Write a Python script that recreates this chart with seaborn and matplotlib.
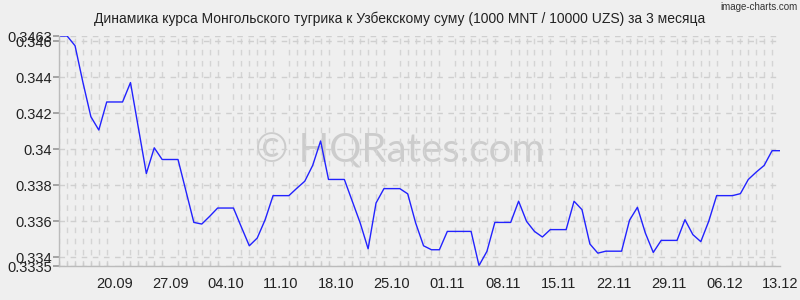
import matplotlib
matplotlib.use("Agg")
import matplotlib.pyplot as plt
import matplotlib.dates as mdates
import seaborn as sns
import pandas as pd

# ---- data ----
start_date = "2023-09-13"
end_date = "2023-12-13"
rates = [
    0.3463, 0.3463, 0.34576, 0.34371, 0.34181, 0.34107, 0.34263, 0.34263, 0.34263, 0.34371,
    0.34118, 0.33865, 0.34008, 0.33943, 0.33943, 0.33943, 0.33768, 0.33593, 0.33584, 0.33627,
    0.33673, 0.33673, 0.33673, 0.33567, 0.33463, 0.33506, 0.33608, 0.33742, 0.33742, 0.33742,
    0.33783, 0.33822, 0.33910, 0.34046, 0.33832, 0.33832, 0.33832, 0.33711, 0.33590, 0.33446,
    0.33701, 0.33781, 0.33781, 0.33781, 0.33752, 0.33590, 0.33463, 0.33441, 0.33441, 0.33543,
    0.33543, 0.33543, 0.33543, 0.33353, 0.33432, 0.33593, 0.33593, 0.33593, 0.33711, 0.33599,
    0.33543, 0.33512, 0.33553, 0.33553, 0.33553, 0.33711, 0.33664, 0.33473, 0.33422, 0.33433,
    0.33433, 0.33433, 0.33605, 0.33677, 0.33534, 0.33426, 0.33493, 0.33493, 0.33493, 0.33608,
    0.33525, 0.33486, 0.33599, 0.33742, 0.33742, 0.33742, 0.33753, 0.33832, 0.33873, 0.33910,
    0.33992, 0.33992,
]
x_tick_dates = ["2023-09-20", "2023-09-27", "2023-10-04", "2023-10-11", "2023-10-18",
                "2023-10-25", "2023-11-01", "2023-11-08", "2023-11-15", "2023-11-22",
                "2023-11-29", "2023-12-06", "2023-12-13"]
x_tick_labels = ["20.09", "27.09", "04.10", "11.10", "18.10", "25.10", "01.11",
                 "08.11", "15.11", "22.11", "29.11", "06.12", "13.12"]
y_ticks = [0.3335, 0.334, 0.336, 0.338, 0.34, 0.342, 0.344, 0.346, 0.3463]
y_tick_labels = ["0.3335", "0.334", "0.336", "0.338", "0.34", "0.342", "0.344", "0.346", "0.3463"]
title = "Динамика курса Монгольского тугрика к Узбекскому суму (1000 MNT / 10000 UZS) за 3 месяца"

df = pd.DataFrame({"date": pd.date_range(start_date, end_date), "rate": rates})

sns.set_theme(style="white")
plt.rcParams["font.family"] = ["Liberation Sans", "DejaVu Sans"]

bg = "#efefef"
fig = plt.figure(figsize=(8, 3), dpi=100, facecolor=bg)
ax = fig.add_axes([0.074, 0.113, 0.901, 0.767])
ax.set_facecolor(bg)

sns.lineplot(data=df, x="date", y="rate", ax=ax, color="#2222ff", linewidth=1.0)

ax.set_xlim(df["date"].iloc[0], df["date"].iloc[-1])
ax.set_ylim(y_ticks[0], y_ticks[-1])

ax.set_xticks(pd.to_datetime(x_tick_dates))
ax.set_xticklabels(x_tick_labels)
ax.xaxis.set_minor_locator(mdates.DayLocator())
ax.set_yticks(y_ticks)
ax.set_yticklabels(y_tick_labels)

ax.grid(which="major", axis="y", color="#cfcfcf", linestyle=(0, (4, 4)), linewidth=1)
ax.grid(which="minor", axis="x", color="#d4d4d4", linestyle=(0, (4, 4)), linewidth=1)
ax.set_axisbelow(True)

ax.tick_params(axis="y", which="major", length=4, color="#999999", labelsize=10.5,
               labelcolor="#222222", pad=1, left=True)
ax.tick_params(axis="x", which="major", length=0, labelsize=10.5, labelcolor="#222222", pad=8)
ax.tick_params(axis="x", which="minor", length=3, color="#cccccc", bottom=True, direction="in")

for side in ["top", "right"]:
    ax.spines[side].set_visible(False)
for side in ["left", "bottom"]:
    ax.spines[side].set_color("#bbbbbb")
    ax.spines[side].set_linewidth(1)

ax.set_xlabel("")
ax.set_ylabel("")

fig.text(0.5, 0.937, title, ha="center", va="center", fontsize=10, color="#222222")
fig.text(0.997, 0.978, "image-charts.com", ha="right", va="center", fontsize=7, color="#333333")
ax.text(0.472, 0.5, "© HQRates.com", transform=ax.transAxes, ha="center", va="center",
        fontsize=29, color="#c4c4c4", alpha=0.8, zorder=0, family=["Lato", "DejaVu Sans"])

fig.savefig("out.png", dpi=100, facecolor=bg)
